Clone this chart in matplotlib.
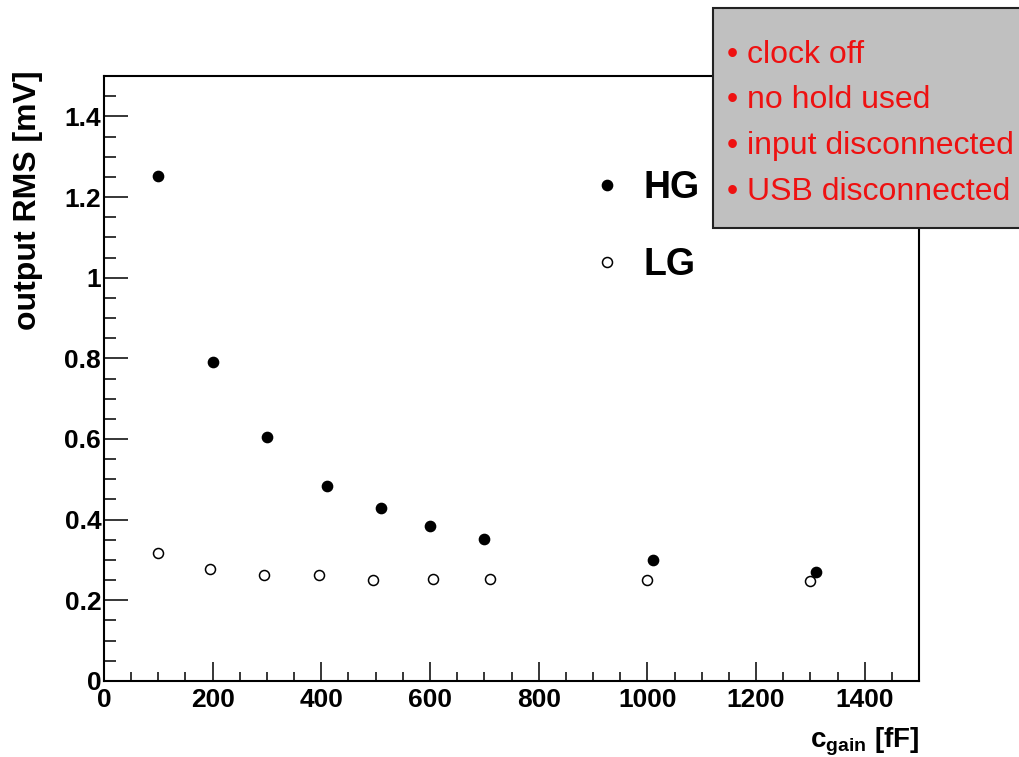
import matplotlib
matplotlib.use("Agg")
import matplotlib.pyplot as plt
from matplotlib.patches import Rectangle
from matplotlib.ticker import MultipleLocator, FormatStrFormatter

# values
hg_x = [100, 200, 300, 410, 510, 600, 700, 1010, 1310]
hg_rms = [1.251, 0.792, 0.605, 0.484, 0.429, 0.385, 0.352, 0.299, 0.271]

lg_x = [100, 195, 295, 395, 495, 605, 710, 1000, 1300]
lg_rms = [0.317, 0.278, 0.262, 0.262, 0.251, 0.253, 0.253, 0.251, 0.247]

notes = ["clock off", "no hold used", "input disconnected", "USB disconnected"]

plt.rcParams["mathtext.fontset"] = "custom"
plt.rcParams["mathtext.bf"] = "Liberation Sans:bold"
plt.rcParams["mathtext.rm"] = "Liberation Sans:bold"

font = "Liberation Sans"

fig = plt.figure(figsize=(10.19, 7.57), dpi=100)
ax = fig.add_axes([0.102, 0.1004, 0.800, 0.7992])

hg, = ax.plot(hg_x, hg_rms, "o", color="black", markersize=7.4, label="HG")
lg, = ax.plot(lg_x, lg_rms, "o", markerfacecolor="white", markeredgecolor="black",
              markeredgewidth=1.1, markersize=7.2, label="LG")

ax.set_xlim(0, 1500)
ax.set_ylim(0, 1.5)
ax.xaxis.set_major_locator(MultipleLocator(200))
ax.xaxis.set_minor_locator(MultipleLocator(50))
ax.yaxis.set_major_locator(MultipleLocator(0.2))
ax.yaxis.set_minor_locator(MultipleLocator(0.05))
ax.yaxis.set_major_formatter(FormatStrFormatter("%g"))

for s in ax.spines.values():
    s.set_linewidth(1.5)

ax.tick_params(axis="x", which="major", direction="in", length=13.5, width=1.1, pad=5)
ax.tick_params(axis="x", which="minor", direction="in", length=6.7, width=1.1)
ax.tick_params(axis="y", which="major", direction="in", length=17, width=1.1, pad=2)
ax.tick_params(axis="y", which="minor", direction="in", length=8.4, width=1.1)
for lab in ax.get_xticklabels() + ax.get_yticklabels():
    lab.set_fontfamily(font)
    lab.set_fontweight("bold")
    lab.set_fontsize(19)

fig.text(0.0275, 0.907, "output RMS [mV]", rotation=90, ha="center", va="top",
         fontsize=23, fontweight="bold", family=font)
fig.text(0.902, 0.0132, r"$\mathbf{c}_{\mathbf{gain}}$ [fF]", ha="right", va="baseline",
         fontsize=20, fontweight="bold", family=font)

leg = ax.legend(handles=[hg, lg], loc="center left", bbox_to_anchor=(596 / 1019, 1 - 226.5 / 757),
                bbox_transform=fig.transFigure, frameon=False, borderpad=0, borderaxespad=0,
                handlelength=0.6, handletextpad=0.67, labelspacing=1.08,
                prop={"family": font, "weight": "bold", "size": 27})

# grey note box in the upper right corner
fig.add_artist(Rectangle((713 / 1019, 1 - 228 / 757), 0.35, 220 / 757,
                         transform=fig.transFigure, facecolor="#c0c0c0",
                         edgecolor="#222222", linewidth=1.5, zorder=5))
baselines = [63, 108, 154, 200]
for txt, yb in zip(notes, baselines):
    fig.text(727 / 1019, 1 - yb / 757, "\u2022 " + txt, ha="left", va="baseline",
             color="#ee1111", fontsize=23, family=font, zorder=6)

fig.savefig("out.png", dpi=100)
